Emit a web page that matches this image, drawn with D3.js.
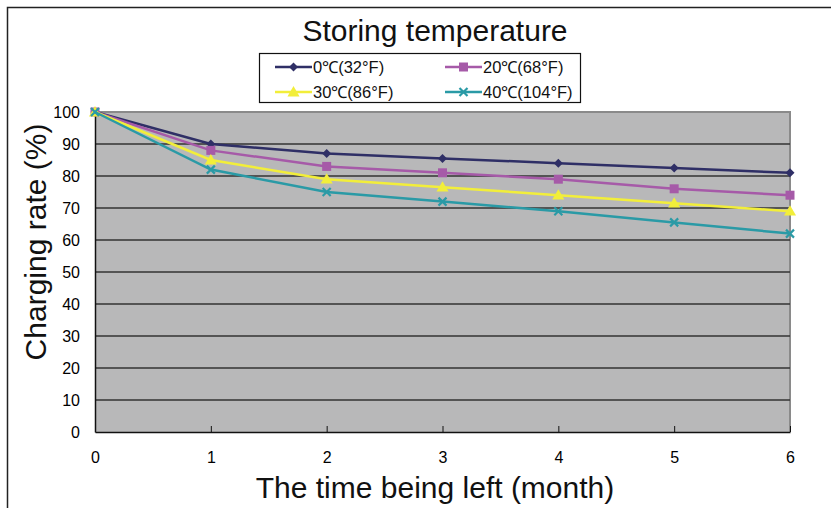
<!DOCTYPE html>
<html><head><meta charset="utf-8">
<script src="https://cdn.jsdelivr.net/npm/d3@7"></script>
<style>body{margin:0;background:#fff}svg{display:block;font-family:"Liberation Sans",Arial,sans-serif}</style>
</head><body><svg id="c" width="831" height="508"></svg>
<script>
const months = [0, 1, 2, 3, 4, 5, 6];
const seriesNames = ["0℃(32°F)", "20℃(68°F)", "30℃(86°F)", "40℃(104°F)"];
const s0 = [100, 90, 87, 85.5, 84, 82.5, 81];
const s20 = [100, 88, 83, 81, 79, 76, 74];
const s30 = [100, 85, 79, 76.5, 74, 71.5, 69];
const s40 = [100, 82, 75, 72, 69, 65.5, 62];
const yTicks = [0, 10, 20, 30, 40, 50, 60, 70, 80, 90, 100];
const colors = ["#2f2f66", "#a65aa8", "#f2ee3a", "#2a9aa6"];
const markers = ["diamond", "square", "triangle", "x"];
const series = [s0, s20, s30, s40];

const svg = d3.select("#c");
const L = 95, R = 790, T = 112, B = 432;
const x = d3.scaleLinear().domain([0, 6]).range([L, R]);
const y = d3.scaleLinear().domain([0, 100]).range([B, T]);
const FONT = "Liberation Sans, Arial, sans-serif";

// outer frame
svg.append("path").attr("d", "M7.5,508V7.5H831").attr("fill", "none").attr("stroke", "#222").attr("stroke-width", 1.5);

// plot area
svg.append("rect").attr("x", L).attr("y", T).attr("width", R - L).attr("height", B - T).attr("fill", "#b8b8b9");
svg.append("path").attr("d", `M${L},${T}H${R}V${B}`).attr("fill", "none").attr("stroke", "#8a8a8a").attr("stroke-width", 2);

// gridlines
svg.append("g").selectAll("line").data(yTicks.filter(d => d > 0 && d < 100)).join("line")
  .attr("x1", L).attr("x2", R).attr("y1", d => y(d)).attr("y2", d => y(d))
  .attr("stroke", "#333").attr("stroke-width", 1.3);

// axes
const yAxis = d3.axisLeft(y).tickValues(yTicks).tickFormat(d3.format("d")).tickSize(0).tickPadding(15);
const gy = svg.append("g").attr("transform", `translate(${L},0)`).call(yAxis);
gy.attr("font-size", 16).attr("font-family", FONT);
gy.select(".domain").attr("stroke", "#111").attr("stroke-width", 1.5);
gy.selectAll("text").attr("fill", "#000");

const xAxis = d3.axisBottom(x).tickValues(months).tickFormat(d3.format("d")).tickSizeInner(-6).tickSizeOuter(0).tickPadding(20);
const gx = svg.append("g").attr("transform", `translate(0,${B})`).call(xAxis);
gx.attr("font-size", 16).attr("font-family", FONT);
gx.select(".domain").attr("stroke", "#111").attr("stroke-width", 1.5);
gx.selectAll(".tick line").attr("stroke", "#111");
gx.selectAll("text").attr("fill", "#000");

function markerPath(type, s) {
  switch (type) {
    case "diamond": return `M0,${-s}L${s},0L0,${s}L${-s},0Z`;
    case "square": return `M${-s},${-s}H${s}V${s}H${-s}Z`;
    case "triangle": return `M0,${-s * 1.1}L${s * 1.1},${s * 0.8}L${-s * 1.1},${s * 0.8}Z`;
    case "x": return `M${-s},${-s}L${s},${s}M${-s},${s}L${s},${-s}`;
  }
}
const msize = [4.5, 4.5, 5.5, 4];

const line = d3.line().x((d, i) => x(months[i])).y(d => y(d));
series.forEach((vals, k) => {
  const g = svg.append("g");
  g.append("path").datum(vals).attr("d", line).attr("fill", "none").attr("stroke", colors[k]).attr("stroke-width", 2.5);
  g.selectAll("path.m").data(vals).join("path").attr("class", "m")
    .attr("transform", (d, i) => `translate(${x(months[i])},${y(d)})`)
    .attr("d", markerPath(markers[k], msize[k]))
    .attr("fill", markers[k] === "x" ? "none" : colors[k])
    .attr("stroke", colors[k]).attr("stroke-width", markers[k] === "x" ? 2.2 : 0);
});

// title
svg.append("text").attr("x", 435).attr("y", 41).attr("text-anchor", "middle").attr("font-size", 30).attr("fill", "#111").text("Storing temperature");

// legend
const lg = svg.append("g");
lg.append("rect").attr("x", 259.5).attr("y", 53.5).attr("width", 321).attr("height", 49).attr("fill", "#fff").attr("stroke", "#111").attr("stroke-width", 1.2);
const lpos = [[275, 67], [445, 67], [275, 92], [445, 92]];
seriesNames.forEach((n, k) => {
  const [lx, ly] = lpos[k];
  lg.append("line").attr("x1", lx).attr("x2", lx + 37).attr("y1", ly).attr("y2", ly).attr("stroke", colors[k]).attr("stroke-width", 2.5);
  lg.append("path").attr("transform", `translate(${lx + 18.5},${ly})`).attr("d", markerPath(markers[k], msize[k]))
    .attr("fill", markers[k] === "x" ? "none" : colors[k]).attr("stroke", colors[k]).attr("stroke-width", markers[k] === "x" ? 2.2 : 0);
  lg.append("text").attr("x", lx + 38).attr("y", ly + 6).attr("font-size", 16.5).attr("fill", "#111").text(n);
});

// axis labels
svg.append("text").attr("x", 435).attr("y", 498).attr("text-anchor", "middle").attr("font-size", 30).attr("fill", "#111").text("The time being left (month)");
svg.append("text").attr("transform", "translate(46,242) rotate(-90)").attr("text-anchor", "middle").attr("font-size", 30).attr("fill", "#111").text("Charging rate (%)");
</script></body></html>
